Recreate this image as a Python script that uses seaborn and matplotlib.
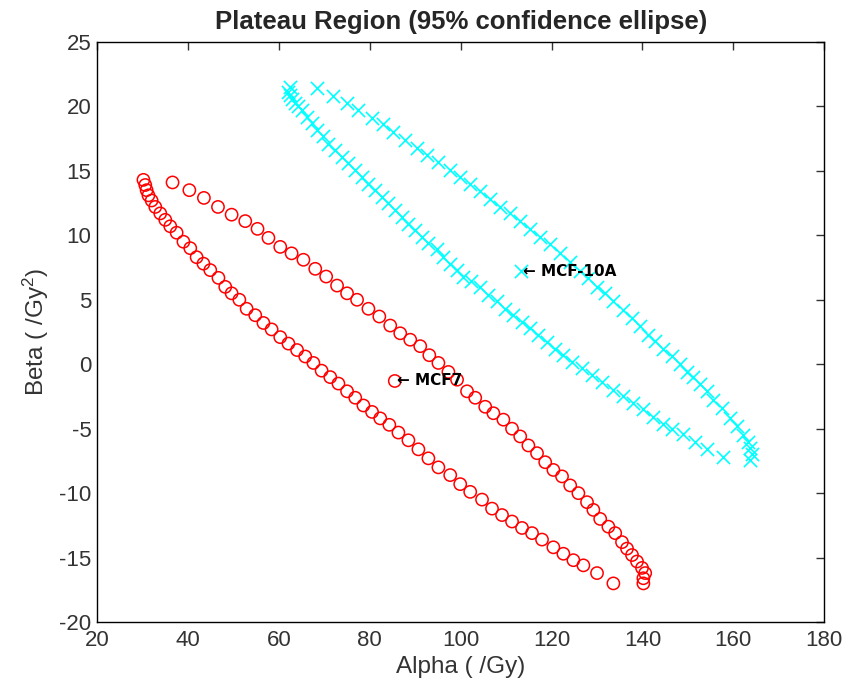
import matplotlib
matplotlib.use("Agg")
import matplotlib.pyplot as plt
import seaborn as sns
import pandas as pd

# ---- data (Alpha, Beta) ----
mcf7_upper_alpha = [36.6, 40.3, 43.5, 46.6, 49.6, 52.6, 55.3, 57.7, 60.3, 62.8, 65.4, 68.0, 70.4, 72.8,
                    75.0, 77.2, 79.7, 82.1, 84.5, 86.7, 88.9, 91.1, 93.1, 95.1, 97.3, 99.2, 101.4, 103.2,
                    105.4, 107.2, 109.4, 111.3, 113.1, 114.9, 116.8, 118.6, 120.4, 122.3, 124.1, 125.9,
                    127.8, 129.2, 130.7, 132.5, 134.0, 135.5, 136.6, 137.7, 138.8, 139.9, 140.6, 140.2, 140.2]
mcf7_upper_beta = [14.1, 13.5, 12.9, 12.2, 11.6, 11.1, 10.5, 9.8, 9.1, 8.6, 8.1, 7.4, 6.8, 6.1,
                   5.5, 5.0, 4.3, 3.7, 3.0, 2.4, 1.9, 1.4, 0.7, 0.1, -0.6, -1.2, -2.1, -2.6,
                   -3.3, -3.8, -4.3, -5.0, -5.6, -6.3, -6.9, -7.6, -8.2, -8.7, -9.4, -10.0,
                   -10.7, -11.3, -12.0, -12.6, -13.1, -13.8, -14.3, -14.8, -15.3, -15.8, -16.2, -16.6, -17.0]
mcf7_lower_alpha = [30.2, 30.6, 30.9, 31.3, 32.0, 32.8, 33.9, 35.0, 36.1, 37.5, 39.0, 40.5, 41.9, 43.4,
                    44.9, 46.7, 48.2, 49.6, 51.3, 52.9, 54.8, 56.6, 58.4, 60.3, 62.1, 64.0, 65.8, 67.6,
                    69.4, 71.3, 73.1, 75.0, 76.8, 78.6, 80.5, 82.3, 84.3, 86.3, 88.5, 90.7, 92.9, 95.1,
                    97.7, 99.9, 102.1, 104.7, 106.9, 109.1, 111.3, 113.5, 115.7, 117.9, 120.4, 122.6,
                    124.8, 127.0, 130.0, 133.6]
mcf7_lower_beta = [14.3, 13.9, 13.5, 13.1, 12.7, 12.2, 11.7, 11.2, 10.7, 10.2, 9.5, 9.0, 8.3, 7.8,
                   7.3, 6.7, 6.0, 5.5, 5.0, 4.3, 3.8, 3.2, 2.7, 2.1, 1.6, 1.1, 0.6, 0.1,
                   -0.5, -1.0, -1.5, -2.1, -2.6, -3.2, -3.7, -4.2, -4.7, -5.3, -5.9, -6.6, -7.3, -8.0,
                   -8.6, -9.3, -9.9, -10.5, -11.2, -11.7, -12.2, -12.7, -13.1, -13.6, -14.2, -14.7,
                   -15.2, -15.6, -16.2, -17.0]

mcf10a_upper_alpha = [68.4, 72.0, 75.0, 77.5, 80.5, 83.0, 85.2, 87.8, 90.4, 92.6, 95.1, 97.7, 99.9, 102.1,
                      104.3, 106.5, 108.7, 110.9, 113.1, 115.3, 117.5, 119.7, 121.9, 124.1, 126.3, 128.1,
                      130.0, 131.8, 133.6, 135.8, 137.7, 139.5, 141.3, 142.8, 144.6, 146.5, 148.3, 149.8,
                      151.2, 152.7, 154.2, 155.6, 157.5, 159.3, 160.8, 162.2, 163.3, 163.7, 164.1, 163.7]
mcf10a_upper_beta = [21.4, 20.8, 20.3, 19.7, 19.1, 18.6, 18.0, 17.4, 16.8, 16.2, 15.7, 15.1, 14.5, 14.0,
                     13.4, 12.8, 12.2, 11.7, 11.1, 10.5, 9.9, 9.3, 8.6, 7.9, 7.2, 6.7,
                     6.0, 5.5, 4.9, 4.2, 3.6, 3.0, 2.3, 1.8, 1.2, 0.6, 0.0, -0.6,
                     -1.0, -1.5, -2.1, -2.8, -3.4, -4.2, -4.8, -5.5, -6.0, -6.5, -7.0, -7.4]
mcf10a_lower_alpha = [62.5, 62.1, 62.5, 62.8, 63.6, 64.3, 65.0, 66.1, 67.2, 68.3, 69.8, 70.9, 72.4, 73.8,
                      75.3, 76.8, 78.3, 79.7, 81.2, 82.7, 84.1, 85.6, 87.1, 88.5, 90.0, 91.5, 92.9, 94.8,
                      96.2, 97.7, 99.2, 100.6, 102.3, 104.3, 106.1, 108.0, 109.8, 111.6, 113.5, 115.3,
                      117.1, 119.0, 120.8, 122.6, 124.5, 126.7, 128.9, 131.1, 133.6, 135.8, 138.0, 140.2,
                      142.4, 144.6, 146.5, 149.0, 151.6, 154.2, 157.8]
mcf10a_lower_beta = [21.5, 21.1, 20.9, 20.6, 20.3, 20.0, 19.7, 19.2, 18.7, 18.2, 17.7, 17.1, 16.6, 16.1,
                     15.6, 15.1, 14.5, 14.0, 13.5, 13.0, 12.5, 12.0, 11.4, 10.9, 10.4, 9.9, 9.4, 8.9,
                     8.3, 7.8, 7.3, 6.8, 6.45, 6.0, 5.4, 4.9, 4.3, 3.8, 3.3, 2.8,
                     2.3, 1.7, 1.2, 0.7, 0.2, -0.3, -0.8, -1.4, -2.0, -2.5, -3.0, -3.5,
                     -4.1, -4.6, -5.0, -5.4, -6.0, -6.6, -7.2]

centers_alpha = [85.5, 113.3]
centers_beta = [-1.3, 7.2]
center_labels = ["MCF7", "MCF-10A"]

title = "Plateau Region (95% confidence ellipse)"
xlabel = "Alpha ( /Gy)"
ylabel = "Beta ( /Gy$^2$)"
xticks = [20, 40, 60, 80, 100, 120, 140, 160, 180]
yticks = [-20, -15, -10, -5, 0, 5, 10, 15, 20, 25]

red = pd.DataFrame({"alpha": mcf7_upper_alpha + mcf7_lower_alpha,
                    "beta": mcf7_upper_beta + mcf7_lower_beta})
cyan = pd.DataFrame({"alpha": mcf10a_upper_alpha + mcf10a_lower_alpha,
                     "beta": mcf10a_upper_beta + mcf10a_lower_beta})

sns.set_style("white")
plt.rcParams["font.family"] = ["Liberation Sans", "DejaVu Sans"]
plt.rcParams["axes.unicode_minus"] = False
plt.rcParams["mathtext.fontset"] = "custom"
plt.rcParams["mathtext.rm"] = "Liberation Sans"
plt.rcParams["mathtext.it"] = "Liberation Sans"

fig = plt.figure(figsize=(8.48, 6.87), dpi=100)
ax = fig.add_axes([0.1145, 0.0945, 0.8575, 0.8445])

sns.scatterplot(data=red, x="alpha", y="beta", marker="o", s=78,
                facecolors="none", edgecolor="#ff0000", linewidth=1.1, ax=ax, zorder=3)
sns.scatterplot(data=cyan, x="alpha", y="beta", marker="x", s=90,
                color="#00ffff", linewidth=1.2, ax=ax, zorder=3)
sns.scatterplot(x=[centers_alpha[0]], y=[centers_beta[0]], marker="o", s=78,
                facecolors="none", edgecolor="#ff0000", linewidth=1.1, ax=ax, zorder=3)
sns.scatterplot(x=[centers_alpha[1]], y=[centers_beta[1]], marker="x", s=90,
                color="#00ffff", linewidth=1.2, ax=ax, zorder=3)

for a, b, lab in zip(centers_alpha, centers_beta, center_labels):
    ax.text(a + 0.4, b, "\u2190 " + lab, fontsize=11, fontweight="bold",
            ha="left", va="center", color="black", zorder=4,
            family=["DejaVu Sans"])

ax.set_xlim(20, 180)
ax.set_ylim(-20, 25)
ax.set_xticks(xticks)
ax.set_yticks(yticks)
ax.tick_params(direction="in", length=6, width=1, top=True, right=True,
               labelsize=16, colors="#333333", pad=4)
ax.tick_params(axis="x", pad=6)
for side in ax.spines.values():
    side.set_visible(True)
    side.set_color("black")
    side.set_linewidth(1.0)
ax.set_xlabel(xlabel, fontsize=17.5, color="#333333", labelpad=3)
ax.set_ylabel(ylabel, fontsize=17.5, color="#333333", labelpad=6)
ax.set_title(title, fontsize=18.5, fontweight="bold", pad=9)

fig.savefig("out.png", dpi=100)
